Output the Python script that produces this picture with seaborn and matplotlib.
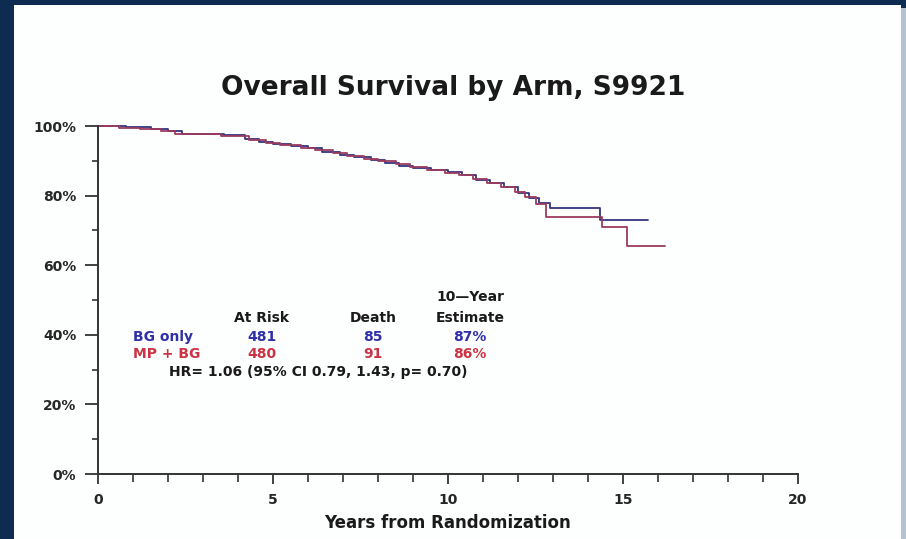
import matplotlib
matplotlib.use("Agg")
import matplotlib.pyplot as plt
import pandas as pd
import seaborn as sns
from matplotlib.patches import Rectangle

# Kaplan-Meier step estimates (years, % surviving), last point = end of follow-up
bg_years = [0, 0.8, 1.5, 2.0, 2.4, 3.6, 4.2, 4.6, 5.0, 5.5, 6.0, 6.4, 6.9, 7.3, 7.8,
            8.2, 8.6, 9.0, 9.5, 10.0, 10.4, 10.8, 11.2, 11.6, 12.0, 12.3, 12.6, 12.9,
            14.35, 15.7]
bg_surv = [100, 99.6, 99.2, 98.6, 97.8, 97.3, 96.3, 95.3, 94.8, 94.2, 93.6, 92.6, 91.8,
           91.0, 90.3, 89.4, 88.6, 87.9, 87.3, 86.7, 85.8, 84.6, 83.5, 82.5, 80.8, 79.2,
           77.8, 76.5, 73.1, 73.1]
mp_years = [0, 0.6, 1.2, 1.8, 2.2, 3.5, 4.3, 4.8, 5.2, 5.8, 6.2, 6.7, 7.1, 7.6, 8.0,
            8.5, 8.9, 9.4, 9.9, 10.3, 10.7, 11.1, 11.5, 11.9, 12.2, 12.5, 12.8, 14.4,
            15.1, 16.2]
mp_surv = [100, 99.5, 99.0, 98.5, 97.8, 97.2, 96.0, 95.2, 94.5, 93.8, 93.0, 92.2, 91.4,
           90.5, 89.8, 89.0, 88.2, 87.5, 86.4, 85.8, 84.8, 83.6, 82.6, 81.0, 79.5, 77.6,
           73.8, 70.9, 65.4, 65.4]

arms = ["BG only", "MP + BG"]
at_risk = [481, 480]
deaths = [85, 91]
est_10yr = ["87%", "86%"]
hr_text = "HR= 1.06 (95% CI 0.79, 1.43, p= 0.70)"
x_major = [0, 5, 10, 15, 20]
y_major = [0, 20, 40, 60, 80, 100]
y_labels = ["0%", "20%", "40%", "60%", "80%", "100%"]

line_colors = {"BG only": "#34347e", "MP + BG": "#9c3a5e"}
text_colors = {"BG only": "#2f2fa8", "MP + BG": "#cc3344"}
ink = "#1a1a1a"

df = pd.concat([
    pd.DataFrame({"years": bg_years, "surv": bg_surv, "arm": arms[0]}),
    pd.DataFrame({"years": mp_years, "surv": mp_surv, "arm": arms[1]}),
], ignore_index=True)

sns.set_theme(style="white")
plt.rcParams["font.family"] = ["DejaVu Sans"]
plt.rcParams["font.weight"] = "bold"

W, H = 906, 539
fig = plt.figure(figsize=(W / 100, H / 100), dpi=100)
fig.patch.set_facecolor("#0e2b52")

def fx(px):
    return px / W

def fy(py):
    return 1 - py / H

# white slide panel inside the navy frame (kept behind the axes)
fig.add_artist(Rectangle((fx(14), 0), fx(901) - fx(14), fy(5), transform=fig.transFigure,
                         facecolor="#fdfefe", edgecolor="none", zorder=-10))
fig.add_artist(Rectangle((fx(901), 0), fx(906) - fx(901), fy(8), transform=fig.transFigure,
                         facecolor="#b4c2d2", edgecolor="none", zorder=-10))

ax = fig.add_axes([fx(98), fy(474), fx(798) - fx(98), fy(126) - fy(474)])
ax.set_zorder(5)
ax.set_facecolor("none")

sns.lineplot(data=df, x="years", y="surv", hue="arm", palette=line_colors,
             drawstyle="steps-post", estimator=None, sort=False, legend=False,
             linewidth=1.3, ax=ax)
for ln in ax.lines:
    ln.set_clip_on(False)

ax.set_xlim(0, 20)
ax.set_ylim(0, 100)
ax.set_xticks(x_major)
ax.set_xticks(range(0, 21), minor=True)
ax.set_yticks(y_major)
ax.set_yticks(range(10, 100, 20), minor=True)
ax.set_yticklabels(y_labels)
ax.set_xticklabels([str(v) for v in x_major])
for lab in ax.get_xticklabels() + ax.get_yticklabels():
    lab.set_fontsize(10)
    lab.set_fontweight("bold")
    lab.set_color("#262626")

ax.tick_params(axis="y", which="major", direction="out", length=9.5, width=1.3,
               color="#333333", left=True, pad=6)
ax.tick_params(axis="y", which="minor", direction="out", length=4, width=1.2,
               color="#333333", left=True)
ax.tick_params(axis="x", which="major", direction="out", length=7.5, width=1.3,
               color="#333333", bottom=True, pad=6)
ax.tick_params(axis="x", which="minor", direction="out", length=6, width=1.2,
               color="#333333", bottom=True)

sns.despine(ax=ax)
for side in ("left", "bottom"):
    ax.spines[side].set_color("#333333")
    ax.spines[side].set_linewidth(1.4)

ax.set_xlabel("Years from Randomization", fontsize=12, fontweight="bold", color=ink,
              labelpad=5)
ax.set_ylabel("")

fig.text(fx(453), fy(88), "Overall Survival by Arm, S9921", ha="center", va="center",
         fontsize=19, fontweight="bold", color=ink)

# summary table inside the plot area
tfs = 10
fig.text(fx(470), fy(297), "10\u2014Year", ha="center", va="center", fontsize=tfs,
         fontweight="bold", color=ink)
for label, cx in zip(["At Risk", "Death", "Estimate"], [262, 373, 470]):
    fig.text(fx(cx), fy(318), label, ha="center", va="center", fontsize=tfs,
             fontweight="bold", color=ink)
for arm, n, d, e, ry in zip(arms, at_risk, deaths, est_10yr, [337, 354]):
    c = text_colors[arm]
    fig.text(fx(133), fy(ry), arm, ha="left", va="center", fontsize=tfs,
             fontweight="bold", color=c)
    for val, cx in zip([str(n), str(d), e], [262, 373, 470]):
        fig.text(fx(cx), fy(ry), val, ha="center", va="center", fontsize=tfs,
                 fontweight="bold", color=c)
fig.text(fx(318), fy(372), hr_text, ha="center", va="center", fontsize=tfs,
         fontweight="bold", color=ink)

fig.savefig("out.png", dpi=100, facecolor=fig.get_facecolor())
